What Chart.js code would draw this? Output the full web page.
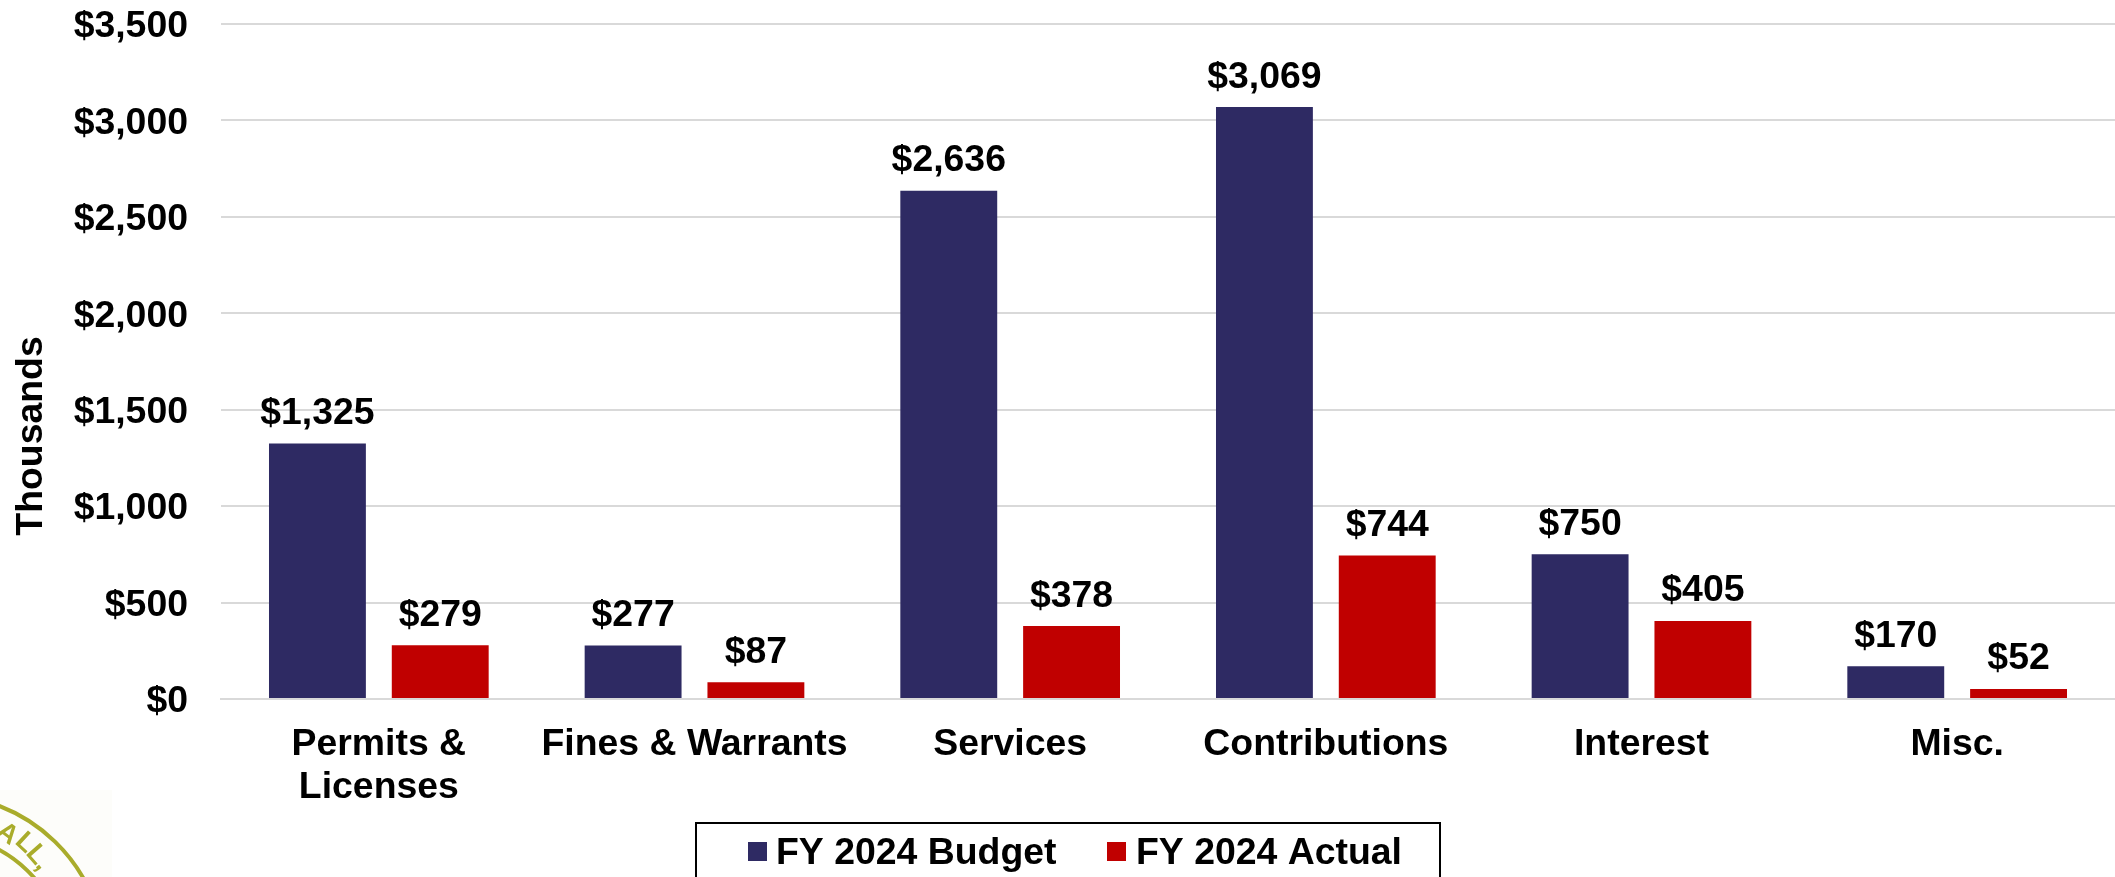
<!DOCTYPE html>
<html><head><meta charset="utf-8">
<style>html,body{margin:0;padding:0;background:#fff}#w{position:relative;width:2115px;height:877px;overflow:hidden}canvas{display:block}</style>
<script src="https://cdn.jsdelivr.net/npm/chart.js@4"></script></head>
<body><div id="w"><canvas id="c" width="2115" height="877"></canvas></div>
<script>
const categories=[["Permits &","Licenses"],"Fines & Warrants","Services","Contributions","Interest","Misc."];
const budget=[1325,277,2636,3069,750,170];
const actual=[279,87,378,744,405,52];
const seriesNames=["FY 2024 Budget","FY 2024 Actual"];
const colors=["#2E2A63","#C00000"];
const axisTitle="Thousands";
const FONT='"Liberation Sans", Arial, sans-serif';
const SIZE=37.4;
const money=v=>"$"+v.toLocaleString("en-US");
const valueLabels={id:"valueLabels",afterDatasetsDraw(ch){const c=ch.ctx;c.save();c.font="bold "+SIZE+"px "+FONT;c.fillStyle="#000";c.textAlign="center";c.textBaseline="alphabetic";
 ch.data.datasets.forEach((d,i)=>ch.getDatasetMeta(i).data.forEach((b,j)=>c.fillText(money(d.data[j]),b.x,b.y-19.5)));c.restore();}};
const decorations={id:"decorations",beforeDraw(ch){const c=ch.ctx;c.save();
 c.fillStyle="#FDFDFA";c.fillRect(0,790,112,87);
 c.strokeStyle="#A9AC2B";c.lineWidth=4;
 c.beginPath();c.arc(-60,960,165,-1.3,-0.3);c.stroke();
 c.beginPath();c.arc(-60,960,125,-1.3,-0.3);c.stroke();
 c.fillStyle="#A9AC2B";c.font="bold 27px "+FONT;c.textAlign="center";c.textBaseline="middle";
 [["A",7,834,0.65],["L",25,843,0.75],["L",36,855,0.85],[",",43,864,0.9]].forEach(([t,x,y,r])=>{c.save();c.translate(x,y);c.rotate(r);c.fillText(t,0,0);c.restore();});
 c.restore();},
 afterDraw(ch){const c=ch.ctx;c.save();
 c.fillStyle="#000";c.font="bold "+SIZE+"px "+FONT;c.textAlign="center";c.textBaseline="middle";
 c.translate(32,436);c.rotate(-Math.PI/2);c.fillText(axisTitle,0,0);c.restore();
 c.save();c.strokeStyle="#000";c.lineWidth=2;c.strokeRect(696,823,744,60);
 c.font="bold "+SIZE+"px "+FONT;c.textBaseline="alphabetic";c.textAlign="left";
 const pos=[[748,776],[1107,1136]];
 seriesNames.forEach((n,i)=>{c.fillStyle=colors[i];c.fillRect(pos[i][0],842,19,19);c.fillStyle="#000";c.fillText(n,pos[i][1],864);});c.restore();}};
new Chart(document.getElementById("c"),{type:"bar",
 data:{labels:categories,datasets:[
  {label:seriesNames[0],data:budget,backgroundColor:colors[0],categoryPercentage:0.778,barPercentage:0.789},
  {label:seriesNames[1],data:actual,backgroundColor:colors[1],categoryPercentage:0.778,barPercentage:0.789}]},
 plugins:[valueLabels,decorations],
 options:{responsive:false,animation:false,
  layout:{padding:{left:0,right:0,top:24,bottom:0}},
  plugins:{legend:{display:false},tooltip:{enabled:false},title:{display:false}},
  scales:{
   x:{afterFit(s){s.height=178},grid:{display:false,drawTicks:false},border:{color:"#D9D9D9",width:2},
      ticks:{color:"#000",font:{family:FONT,weight:"bold",size:SIZE,lineHeight:1.15},maxRotation:0,autoSkip:false,padding:24}},
   y:{min:0,max:3500,afterFit(s){s.width=221;s.paddingTop=0;s.paddingBottom=0},grid:{color:"#D9D9D9",lineWidth:2,drawTicks:false},border:{display:false},
      ticks:{stepSize:500,color:"#000",padding:33,labelOffset:3,font:{family:FONT,weight:"bold",size:SIZE},callback:v=>money(v)}}
  }}});
</script></body></html>
